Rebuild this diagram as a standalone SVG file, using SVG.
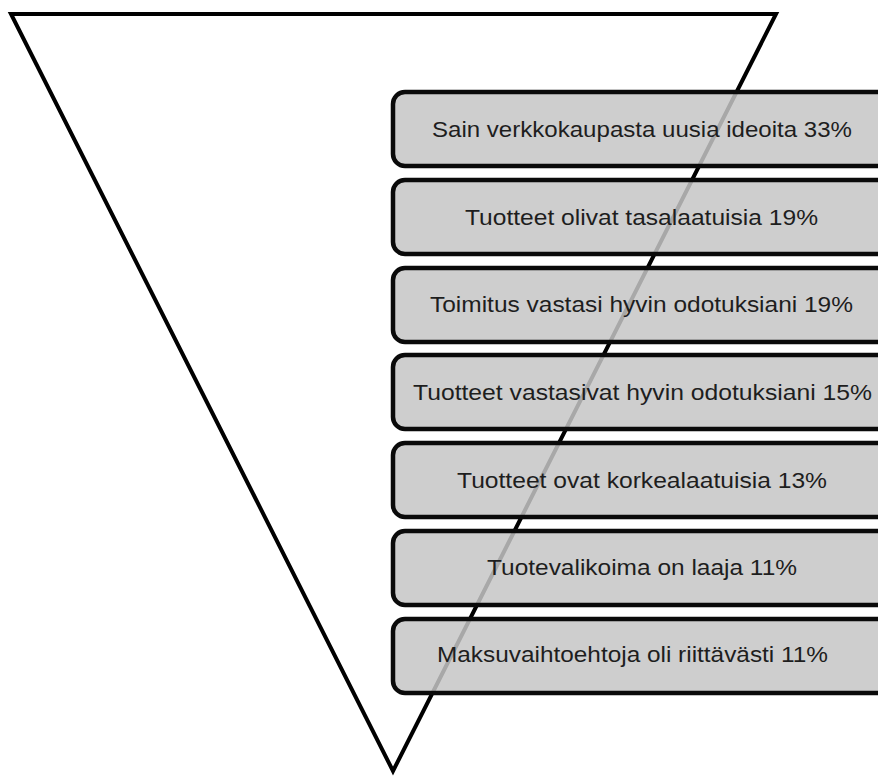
<svg xmlns="http://www.w3.org/2000/svg" width="878" height="778" viewBox="0 0 878 778">
<style>
.tri{fill:none;stroke:#000;stroke-width:4;stroke-linejoin:miter}
.box{fill:#c6c6c6;fill-opacity:0.85;stroke:#0a0a0a;stroke-width:4.5}
.lbl{font-family:"Liberation Sans",Arial,sans-serif;font-size:22.5px;fill:#1e1e1e;text-anchor:middle}
</style>
<rect width="878" height="778" fill="#fff"/>
<g id="funnel">
<polygon class="tri" points="11,14 776,14 393,771"/>
</g>
<g id="connectors"></g>
<g id="item1"><rect class="box" x="393" y="92" width="500" height="74" rx="12"/><text class="lbl" x="642" y="137" textLength="420" lengthAdjust="spacingAndGlyphs">Sain verkkokaupasta uusia ideoita 33%</text></g>
<g id="item2"><rect class="box" x="393" y="180" width="500" height="74" rx="12"/><text class="lbl" x="641.5" y="225" textLength="353" lengthAdjust="spacingAndGlyphs">Tuotteet olivat tasalaatuisia 19%</text></g>
<g id="item3"><rect class="box" x="393" y="268" width="500" height="74" rx="12"/><text class="lbl" x="641.5" y="312" textLength="423" lengthAdjust="spacingAndGlyphs">Toimitus vastasi hyvin odotuksiani 19%</text></g>
<g id="item4"><rect class="box" x="393" y="355" width="500" height="74" rx="12"/><text class="lbl" x="642.5" y="400" textLength="459" lengthAdjust="spacingAndGlyphs">Tuotteet vastasivat hyvin odotuksiani 15%</text></g>
<g id="item5"><rect class="box" x="393" y="443" width="500" height="74" rx="12"/><text class="lbl" x="642" y="488" textLength="370" lengthAdjust="spacingAndGlyphs">Tuotteet ovat korkealaatuisia 13%</text></g>
<g id="item6"><rect class="box" x="393" y="531" width="500" height="74" rx="12"/><text class="lbl" x="642" y="575" textLength="310" lengthAdjust="spacingAndGlyphs">Tuotevalikoima on laaja 11%</text></g>
<g id="item7"><rect class="box" x="393" y="619" width="500" height="74" rx="12"/><text class="lbl" x="632.5" y="662" textLength="391" lengthAdjust="spacingAndGlyphs">Maksuvaihtoehtoja oli riittävästi 11%</text></g>
</svg>
